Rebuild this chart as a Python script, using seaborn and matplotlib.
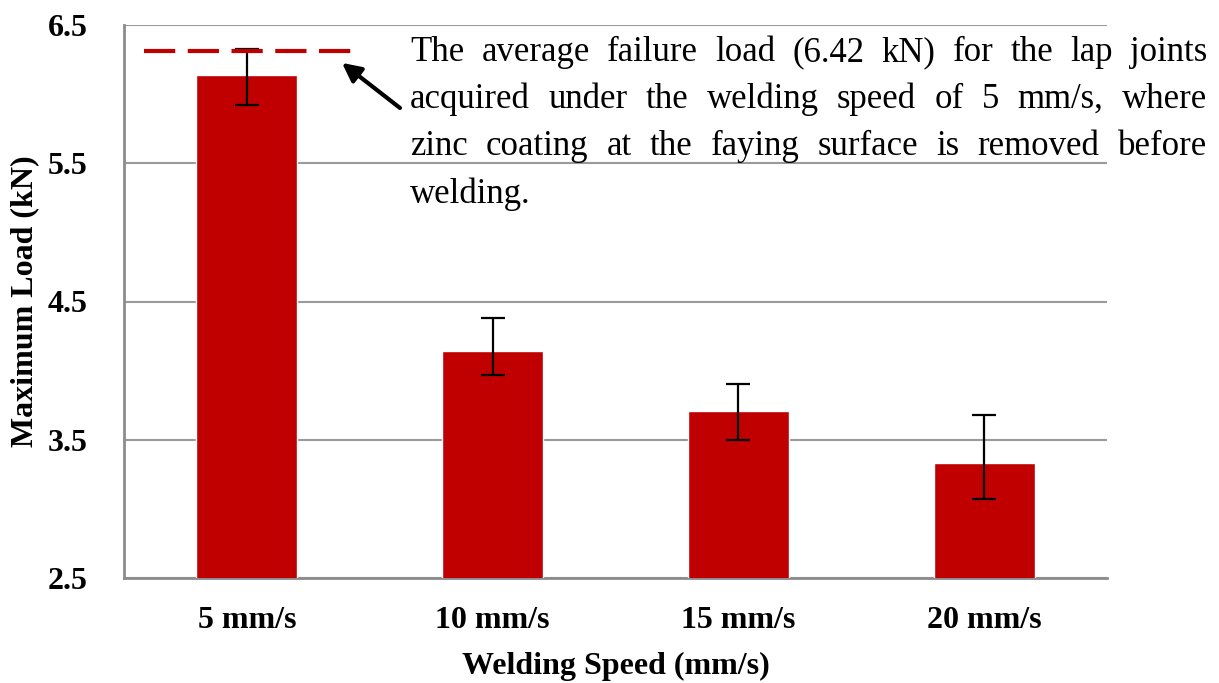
import numpy as np
import pandas as pd
import matplotlib
matplotlib.use("Agg")
import matplotlib.pyplot as plt
import seaborn as sns

# data
speeds = ['5 mm/s', '10 mm/s', '15 mm/s', '20 mm/s']
max_load = [6.14, 4.14, 3.71, 3.33]
err_low = [5.92, 3.97, 3.50, 3.07]
err_high = [6.33, 4.38, 3.90, 3.68]
ref_level = 6.31
y_ticks = [2.5, 3.5, 4.5, 5.5, 6.5]
note_lines = [
    "The average failure load (6.42 kN) for the lap joints",
    "acquired under the welding speed of 5 mm/s, where",
    "zinc coating at the faying surface is removed before",
    "welding.",
]

df = pd.DataFrame({'speed': speeds, 'load': max_load})

sns.set_style('white')
plt.rcParams['font.family'] = ['Liberation Serif', 'DejaVu Serif']
plt.rcParams['text.color'] = 'black'
plt.rcParams['axes.labelcolor'] = 'black'
plt.rcParams['xtick.color'] = 'black'
plt.rcParams['ytick.color'] = 'black'

W, H = 1219, 683
fig = plt.figure(figsize=(W / 100, H / 100), dpi=100)
ax = fig.add_axes([124 / W, 1 - 578 / H, (1107 - 124) / W, (578 - 25) / H])

red = '#C00000'
sns.barplot(data=df, x='speed', y='load', color=red, width=0.41,
            errorbar=None, ax=ax, saturation=1, zorder=3)

lo = np.array(max_load) - np.array(err_low)
hi = np.array(err_high) - np.array(max_load)
ax.errorbar(np.arange(len(speeds)), max_load, yerr=[lo, hi], fmt='none',
            ecolor='black', elinewidth=1.6, capsize=8.5, capthick=1.6, zorder=4)

ax.set_ylim(2.5, 6.5)
ax.set_xlim(-0.5, 3.5)
ax.set_yticks(y_ticks)
ax.set_yticklabels([f'{t:.1f}' for t in y_ticks])
ax.yaxis.grid(True, color='#9a9a9a', lw=1.5, zorder=0)
ax.set_axisbelow(True)

for s in ['top', 'right']:
    ax.spines[s].set_visible(False)
for s in ['left', 'bottom']:
    ax.spines[s].set_color('#8c8c8c')
    ax.spines[s].set_linewidth(2)

ax.set_xticks(np.arange(-0.5, 4, 1), minor=True)
ax.tick_params(axis='x', which='major', length=0, pad=20)
ax.tick_params(axis='x', which='minor', direction='in', length=6,
               width=2, color='#8c8c8c')
ax.tick_params(axis='y', which='major', length=0, pad=26)

for lab in ax.get_xticklabels() + ax.get_yticklabels():
    lab.set_fontsize(23)
    lab.set_fontweight('bold')

ax.set_xlabel('Welding Speed (mm/s)', fontsize=23, fontweight='bold', labelpad=12)
ax.set_ylabel('Maximum Load (kN)', fontsize=23, fontweight='bold', labelpad=6)

# reference level (dashed) and arrow
ax.plot([-0.42, 0.464], [ref_level, ref_level], color=red, lw=3,
        dashes=(7.5, 3), zorder=5)
ax.annotate('', xy=(0.387, 6.226), xytext=(0.623, 5.90),
            arrowprops=dict(arrowstyle='-|>', lw=3, color='black',
                            mutation_scale=28, shrinkA=0, shrinkB=0),
            annotation_clip=False)

# justified note text
renderer = fig.canvas.get_renderer()
x0, x1 = 410, 1207
baselines = [61, 108, 155, 203]
for i, line in enumerate(note_lines):
    words = line.split()
    texts = [fig.text(0, 0, w, fontsize=25, va='baseline', ha='left', color='black')
             for w in words]
    widths = [t.get_window_extent(renderer).width for t in texts]
    if i < len(note_lines) - 1 and len(words) > 1:
        gap = (x1 - x0 - sum(widths)) / (len(words) - 1)
    else:
        gap = 8
    x = x0
    for t, w in zip(texts, widths):
        t.set_position((x / W, 1 - baselines[i] / H))
        x += w + gap

fig.savefig('out.png', dpi=100)
